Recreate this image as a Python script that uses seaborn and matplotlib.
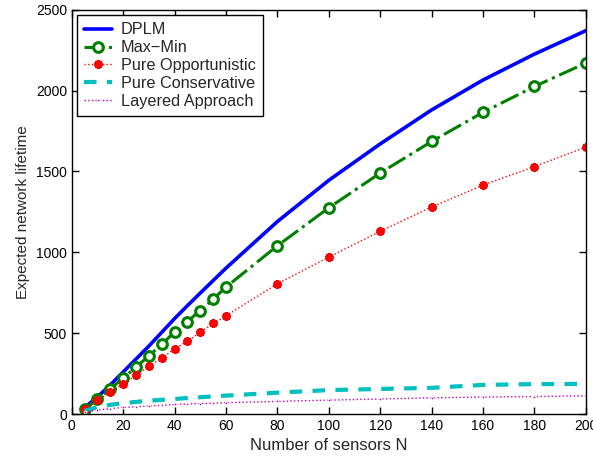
import matplotlib
matplotlib.use("Agg")
import matplotlib.pyplot as plt
import seaborn as sns
import pandas as pd

# sensor counts used by every curve
n_sensors = [5, 10, 15, 20, 25, 30, 35, 40, 45, 50, 55, 60, 80, 100, 120, 140, 160, 180, 200]

dplm = [40, 105, 180, 260, 340, 420, 505, 590, 670, 748, 825, 902,
        1190, 1445, 1670, 1880, 2065, 2225, 2370]
max_min = [30, 90, 155, 222, 290, 360, 430, 508, 572, 640, 710, 785,
           1040, 1275, 1490, 1685, 1865, 2025, 2170]
pure_opp = [30, 85, 135, 186, 240, 295, 345, 404, 450, 505, 560, 607,
            805, 970, 1130, 1280, 1415, 1530, 1650]
pure_cons = [20, 42, 57, 67, 75, 82, 88, 93, 99, 104, 109, 114,
             132, 148, 155, 162, 180, 185, 186]
layered = [12, 25, 33, 41, 45, 50, 54, 59, 62, 65, 67, 70,
           78, 86, 93, 100, 105, 108, 113]

sns.set_style("ticks")
plt.rcParams['font.family'] = ['Liberation Sans', 'DejaVu Sans']
plt.rcParams['xtick.direction'] = 'in'
plt.rcParams['ytick.direction'] = 'in'

fig = plt.figure(figsize=(5.93, 4.58), dpi=100)
ax = fig.add_axes([0.121, 0.096, 0.867, 0.883])

df = pd.DataFrame({"N": n_sensors, "DPLM": dplm, "Max-Min": max_min,
                   "Pure Opportunistic": pure_opp, "Pure Conservative": pure_cons,
                   "Layered Approach": layered})

sns.lineplot(data=df, x="N", y="DPLM", ax=ax, color="#0000ff", lw=2.6, label="DPLM")
sns.lineplot(data=df, x="N", y="Max-Min", ax=ax, color="#007f00", lw=2.2,
             linestyle="-.", marker="o", markersize=7, markerfacecolor="white",
             markeredgecolor="#007f00", markeredgewidth=2.2, label="Max\u2212Min")
sns.lineplot(data=df, x="N", y="Pure Opportunistic", ax=ax, color="#ff0000", lw=1.0,
             linestyle=":", marker=(6, 2, 0), markersize=6, markeredgewidth=2.5,
             markeredgecolor="#ff0000", label="Pure Opportunistic")
sns.lineplot(data=df, x="N", y="Pure Conservative", ax=ax, color="#00bfbf", lw=3,
             linestyle=(0, (3, 2.5)), label="Pure Conservative")
sns.lineplot(data=df, x="N", y="Layered Approach", ax=ax, color="#bf00bf", lw=1.0,
             linestyle=":", marker=".", markersize=4, label="Layered Approach")

ax.set_xlim(0, 200)
ax.set_ylim(0, 2500)
ax.set_xticks(range(0, 201, 20))
ax.set_yticks(range(0, 2501, 500))
ax.tick_params(direction="in", top=True, right=True, bottom=True, left=True,
               labelsize=10, length=5, width=1.0, color="black", labelcolor="black")
for s in ax.spines.values():
    s.set_visible(True)
    s.set_linewidth(1.0)
    s.set_color("black")
ax.set_xlabel("Number of sensors N", fontsize=12)
ax.set_ylabel("Expected network lifetime", fontsize=11)

leg = ax.legend(loc="upper left", fontsize=11.7, frameon=True, fancybox=False,
                borderpad=0.45, labelspacing=0.18, handlelength=1.7,
                handletextpad=0.55, borderaxespad=0.33)
leg.get_frame().set_edgecolor("black")
leg.get_frame().set_linewidth(1.0)
leg.get_frame().set_alpha(1.0)

fig.savefig("out.png", dpi=100)
